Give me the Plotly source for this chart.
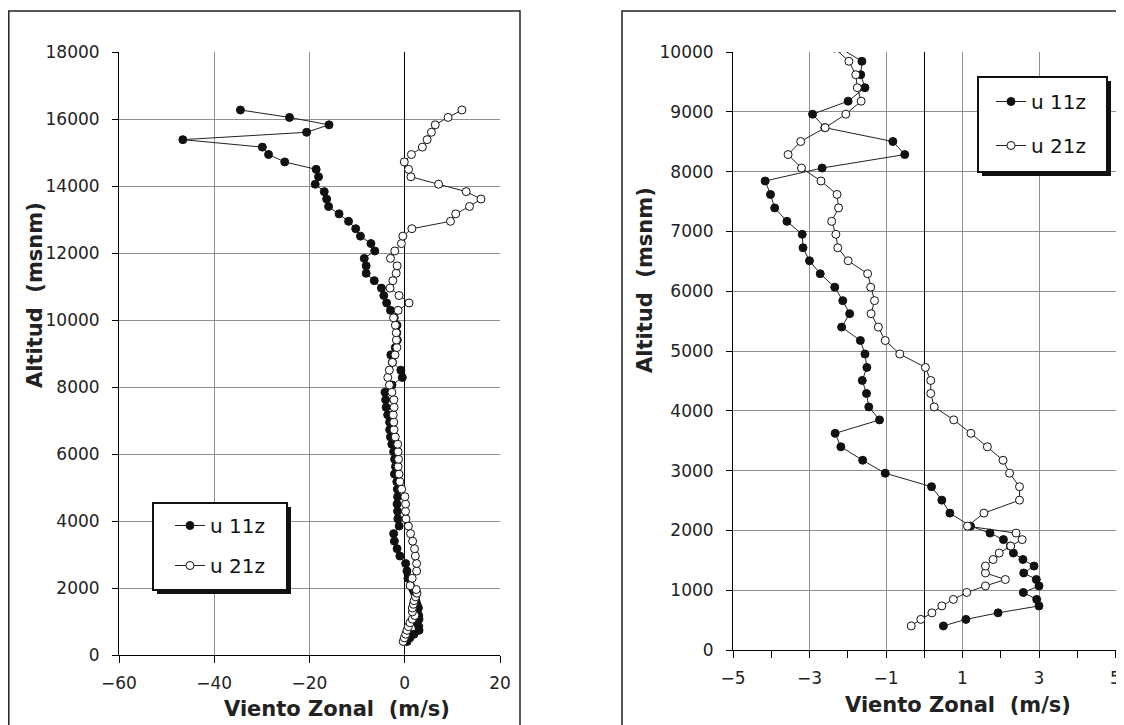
import plotly.graph_objects as go

# ---------------- data ----------------
altitud = [403, 512, 621, 737, 846, 962, 1071, 1179, 1288, 1404, 1513, 1621, 1738, 1846,
           1955, 2071, 2289, 2506, 2731, 2956, 3173, 3398, 3623, 3848, 4065, 4290, 4507,
           4725, 4950, 5175, 5400, 5624, 5842, 6067, 6292, 6509, 6726, 6951, 7168, 7393,
           7618, 7843, 8060, 8285, 8503, 8735, 8960, 9178, 9403, 9620, 9845, 10066, 10288,
           10509, 10731, 10952, 11174, 11395, 11617, 11839, 12060, 12282, 12503, 12725,
           12946, 13168, 13389, 13611, 13832, 14054, 14275, 14497, 14718, 14940, 15161,
           15383, 15604, 15826, 16047, 16269]

u_11z = [0.50, 1.09, 1.93, 3.00, 2.94, 2.59, 3.00, 2.93, 2.60, 2.87, 2.58, 2.33, 2.25, 2.07,
         1.72, 1.21, 0.67, 0.46, 0.19, -1.02, -1.61, -2.18, -2.33, -1.17, -1.45, -1.51, -1.62,
         -1.50, -1.55, -1.67, -2.16, -1.95, -2.13, -2.34, -2.72, -3.00, -3.17, -3.19, -3.59, -3.91,
         -4.02, -4.16, -2.67, -0.51, -0.82, -2.60, -2.92, -1.99, -1.55, -1.66, -1.63, -2.2, -3.0,
         -3.8, -4.4, -4.9, -6.4, -8.1, -8.1, -8.5, -6.3, -7.1, -9.3, -10.3,
         -11.8, -13.8, -16.0, -16.4, -16.9, -18.8, -18.1, -18.6, -25.2, -28.6, -29.9,
         -46.6, -20.6, -15.9, -24.2, -34.5]

u_21z = [-0.34, -0.09, 0.20, 0.46, 0.76, 1.11, 1.60, 2.12, 1.60, 1.60, 1.80, 1.96, 2.26, 2.56,
         2.40, 1.13, 1.56, 2.49, 2.49, 2.23, 2.06, 1.65, 1.22, 0.77, 0.26, 0.17, 0.17,
         0.03, -0.64, -1.02, -1.20, -1.39, -1.30, -1.40, -1.48, -1.99, -2.26, -2.31, -2.42, -2.24,
         -2.28, -2.70, -3.21, -3.56, -3.23, -2.59, -2.05, -1.65, -1.75, -1.79, -1.97, -2.35, -1.4,
         0.9, -1.2, -3.1, -2.5, -1.8, -1.6, -3.0, -2.1, -0.7, -0.4, 1.5,
         9.6, 10.7, 13.6, 16.0, 12.9, 7.1, 1.3, 0.8, -0.1, 1.4, 3.7,
         4.7, 5.6, 6.4, 9.1, 12.0]

series_names = ["u 11z", "u 21z"]
left_xticks = [-60, -40, -20, 0, 20]
right_xticks = [-5, -3, -1, 1, 3, 5]
right_xminor = [-4, -2, 0, 2, 4]
x_title = "Viento Zonal\u00a0 (m/s)"
y_title = "Altitud\u00a0 (msnm)"

# ---------------- layout helpers ----------------
# the page body has an 8px margin, so the figure is drawn 8px in from the window corner
OFF = 8
W, H = 1124 - OFF, 725 - OFF
def px(x):
    return (x - OFF) / W
def py(y):
    return 1 - (y - OFF) / H

FONT = "DejaVu Sans, Liberation Sans, Arial, sans-serif"
GRID = "#8f8f8f"

fig = go.Figure()

marker_filled = dict(symbol="circle", size=8, color="#111111", line=dict(color="#111111", width=1))
marker_open = dict(symbol="circle", size=8, color="white", line=dict(color="#111111", width=1))
line_style = dict(color="#222222", width=1)

# left panel
fig.add_trace(go.Scatter(x=u_11z, y=altitud, mode="lines+markers", name=series_names[0],
                         marker=marker_filled, line=line_style, xaxis="x", yaxis="y",
                         legend="legend", legendgroup="a"))
fig.add_trace(go.Scatter(x=u_21z, y=altitud, mode="lines+markers", name=series_names[1],
                         marker=marker_open, line=line_style, xaxis="x", yaxis="y",
                         legend="legend", legendgroup="b"))
# right panel
fig.add_trace(go.Scatter(x=u_11z, y=altitud, mode="lines+markers", name=series_names[0],
                         marker=marker_filled, line=line_style, xaxis="x2", yaxis="y2",
                         legend="legend2", legendgroup="c"))
fig.add_trace(go.Scatter(x=u_21z, y=altitud, mode="lines+markers", name=series_names[1],
                         marker=marker_open, line=line_style, xaxis="x2", yaxis="y2",
                         legend="legend2", legendgroup="d"))

tickfont = dict(family=FONT, size=17, color="#222222")
common_x = dict(showgrid=True, gridcolor=GRID, gridwidth=1, zeroline=True, zerolinecolor="#000000",
                zerolinewidth=1, showline=True, linecolor="#000000", linewidth=1, ticks="outside",
                ticklen=7, tickcolor="#000000", tickfont=tickfont, fixedrange=True,
                ticklabelstandoff=6, automargin=False, ticklabeloverflow="allow")
common_y = dict(showgrid=True, gridcolor=GRID, gridwidth=1, zeroline=False, showline=True,
                linecolor="#000000", linewidth=1, ticks="outside", ticklen=6, tickcolor="#000000",
                tickfont=tickfont, fixedrange=True, ticklabelstandoff=9, tickformat="d",
                automargin=False, ticklabeloverflow="allow")

fig.update_layout(
    width=W, height=H,
    margin=dict(l=0, r=0, t=0, b=0, pad=0, autoexpand=False),
    paper_bgcolor="white", plot_bgcolor="white",
    xaxis=dict(domain=[px(119), px(500)], range=[-60, 20], tickmode="array", tickvals=left_xticks,
               anchor="y", **common_x),
    yaxis=dict(domain=[py(655), py(52)], range=[0, 18000], tickmode="linear", tick0=0, dtick=2000,
               anchor="x", **common_y),
    xaxis2=dict(domain=[px(733), px(1115.5)], range=[-5, 5], tickmode="array", tickvals=right_xticks,
                minor=dict(tickmode="array", tickvals=right_xminor, ticks="outside", ticklen=7,
                           tickcolor="#000000", showgrid=False),
                anchor="y2", **common_x),
    yaxis2=dict(domain=[py(650), py(52)], range=[0, 10000], tickmode="linear", tick0=0, dtick=1000,
                anchor="x2", **common_y),
    showlegend=True,
    legend=dict(x=px(170), y=py(506), xanchor="left", yanchor="top", bgcolor="rgba(0,0,0,0)",
                borderwidth=0, font=dict(family=FONT, size=20, color="#111111"),
                tracegroupgap=11, itemwidth=30),
    legend2=dict(x=px(991), y=py(82), xanchor="left", yanchor="top", bgcolor="rgba(0,0,0,0)",
                 borderwidth=0, font=dict(family=FONT, size=20, color="#111111"),
                 tracegroupgap=15, itemwidth=30),
)

shapes = []
# chart frames
shapes.append(dict(type="rect", xref="paper", yref="paper", x0=px(8.8), x1=px(520), y0=py(11), y1=py(760),
                   line=dict(color="#222222", width=1.5), fillcolor="rgba(0,0,0,0)", layer="below"))
shapes.append(dict(type="rect", xref="paper", yref="paper", x0=px(622), x1=px(1160), y0=py(11), y1=py(760),
                   line=dict(color="#222222", width=1.5), fillcolor="rgba(0,0,0,0)", layer="below"))
# legend boxes with shadow
for (lx0, ly0, lx1, ly1) in [(153, 503, 287, 590), (978, 77, 1107, 172)]:
    shapes.append(dict(type="rect", xref="paper", yref="paper", x0=px(lx0 + 4), x1=px(lx1 + 4),
                       y0=py(ly0 + 4), y1=py(ly1 + 4), line=dict(width=0), fillcolor="#111111", layer="above"))
    shapes.append(dict(type="rect", xref="paper", yref="paper", x0=px(lx0), x1=px(lx1),
                       y0=py(ly0), y1=py(ly1), line=dict(color="#111111", width=2), fillcolor="white",
                       layer="above"))
fig.update_layout(shapes=shapes)

title_font = dict(family=FONT, size=21, color="#222222")
annotations = [
    dict(text="<b>%s</b>" % x_title, x=px(337), y=py(709), xref="paper", yref="paper",
         showarrow=False, font=title_font, xanchor="center", yanchor="middle"),
    dict(text="<b>%s</b>" % y_title, x=px(35), y=py(295), xref="paper", yref="paper",
         showarrow=False, font=title_font, textangle=-90, xanchor="center", yanchor="middle"),
    dict(text="<b>%s</b>" % x_title, x=px(958), y=py(705), xref="paper", yref="paper",
         showarrow=False, font=title_font, xanchor="center", yanchor="middle"),
    dict(text="<b>%s</b>" % y_title, x=px(645), y=py(280), xref="paper", yref="paper",
         showarrow=False, font=title_font, textangle=-90, xanchor="center", yanchor="middle"),
]
fig.update_layout(annotations=annotations)

fig.write_html("out.html")
